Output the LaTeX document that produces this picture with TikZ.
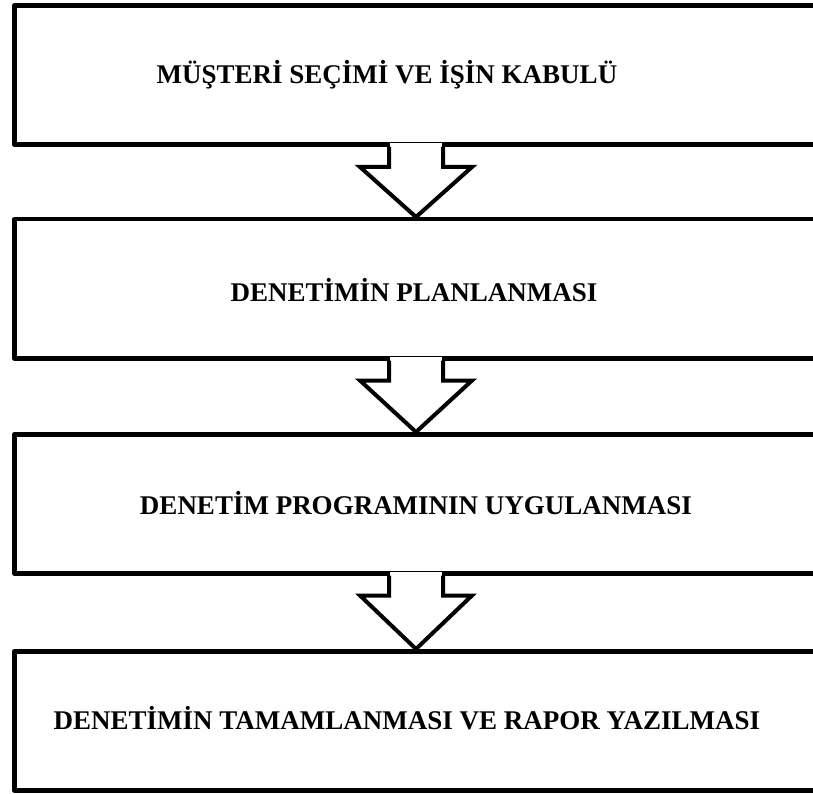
\documentclass[tikz,border=0pt]{standalone}
\usepackage{fontspec}
\setmainfont{Liberation Serif}
\begin{document}
\begin{tikzpicture}[x=1pt,y=-1pt,
  stage/.style={draw=black,line width=4.5pt,line join=round,rectangle,
    minimum width=818pt,minimum height=139pt,anchor=north west,inner sep=0pt},
  caption/.style={font=\bfseries\fontsize{27}{31}\selectfont,inner sep=0pt},
  flowline/.style={draw=black,line width=4pt,line join=miter}
]
\useasboundingbox (0,0) rectangle (813,794);
\clip (0,0) rectangle (813,794);

% process stages
\node[stage] (s1) at (12,3.5) {};
\node[stage] (s2) at (12,217) {};
\node[stage] (s3) at (12,432) {};
\node[stage] (s4) at (12,649) {};

\node[caption] (t1) at (387,75) {MÜŞTERİ SEÇİMİ VE İŞİN KABULÜ};
\node[caption] (t2) at (414,290) {DENETİMİN PLANLANMASI};
\node[caption] (t3) at (416,503) {DENETİM PROGRAMININ UYGULANMASI};
\node[caption] (t4) at (407,718) {DENETİMİN TAMAMLANMASI VE RAPOR YAZILMASI};

% block arrows joining consecutive stages
\foreach \a/\b in {s1/s2,s2/s3,s3/s4}{
  \path (\a.south west) ++(404,0) coordinate (ctr);
  \fill[white] ([shift={(-26,-4)}]ctr) rectangle ([shift={(26,18)}]ctr);
  \draw[flowline] ([shift={(-27,0)}]ctr) -- ++(0,20) -- ++(-29,0)
     -- (ctr |- \b.north) -- ([shift={(56,20)}]ctr) -- ++(-29,0) -- ([shift={(27,0)}]ctr);
}
\end{tikzpicture}
\end{document}
